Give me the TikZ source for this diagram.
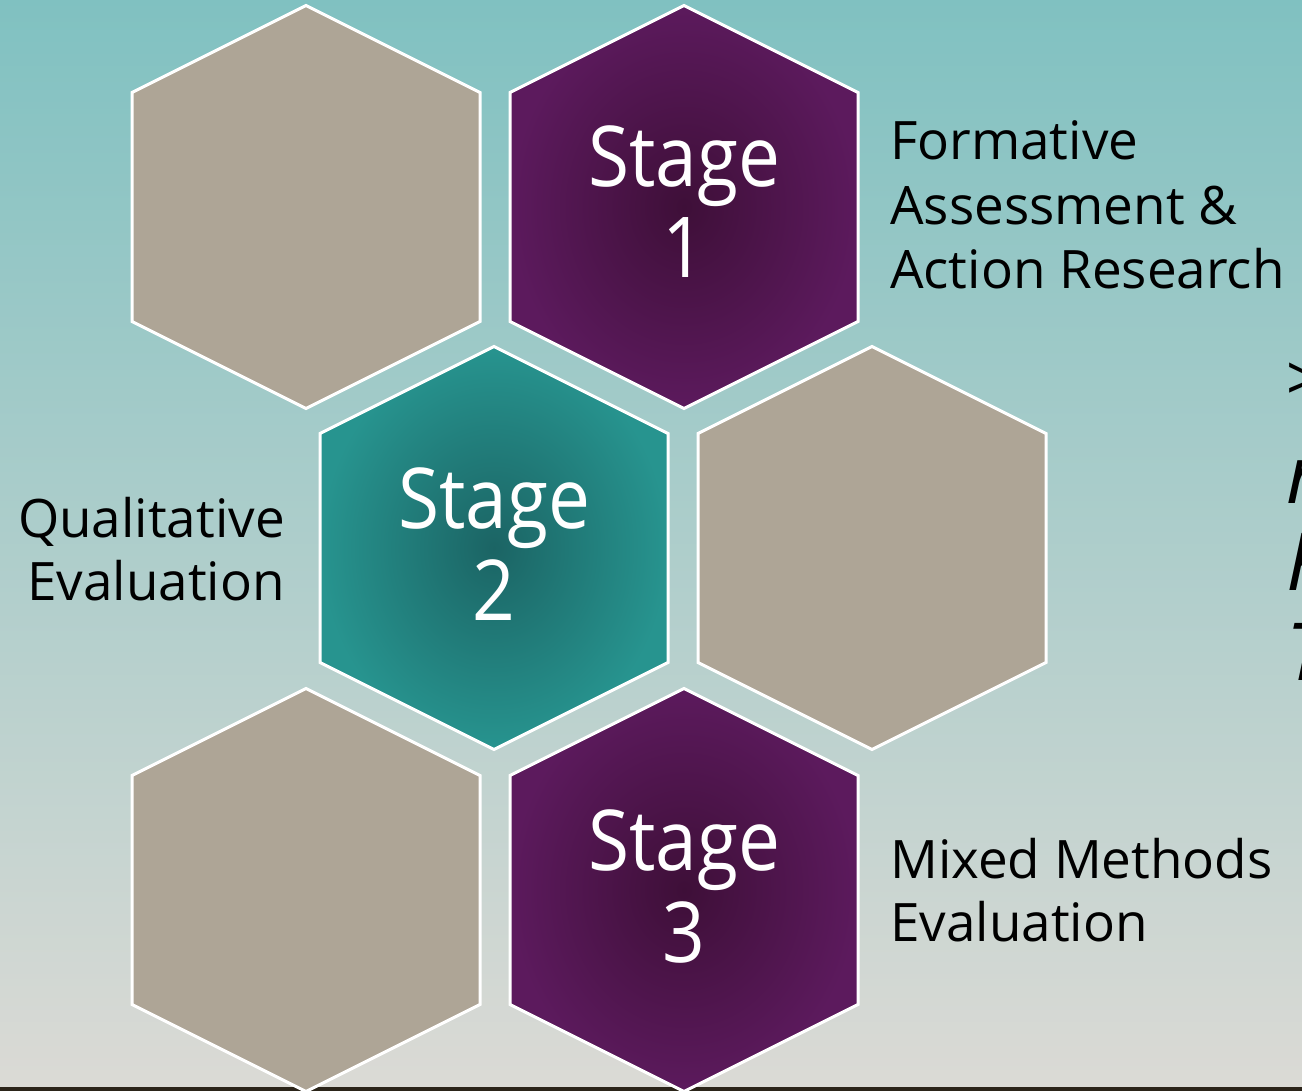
\documentclass[tikz,border=0pt]{standalone}
\usepackage{fontspec}
\setmainfont{Open Sans}
\newfontfamily\stagefont[FakeStretch=0.89]{Open Sans}
\definecolor{bgtop}{HTML}{80C1C1}
\definecolor{bgmid}{HTML}{A3CAC7}
\definecolor{bgbot}{HTML}{DBDAD5}
\definecolor{floor}{HTML}{2B2419}
\definecolor{taupe}{HTML}{AEA596}
\definecolor{plumin}{HTML}{3E0F38}
\definecolor{plumout}{HTML}{5C1A5D}
\definecolor{tealin}{HTML}{1B6464}
\definecolor{tealout}{HTML}{27948F}
\begin{document}
\begin{tikzpicture}[x=1pt,y=-1pt,
  hexline/.style={draw=white,line width=3pt,line join=miter},
  plain/.style={hexline,top color=taupe,bottom color=taupe},
  plum/.style={hexline,inner color=plumin,outer color=plumout},
  sea/.style={hexline,inner color=tealin,outer color=tealout},
  stagetxt/.style={text=white,font=\stagefont\fontsize{84}{84}\selectfont,inner sep=0pt,anchor=base},
  sidetxt/.style={text=black,font=\fontsize{53}{53}\selectfont,inner sep=0pt},
  edgetxt/.style={text=black,font=\fontsize{80}{80}\selectfont\itshape,inner sep=0pt,anchor=base west}]
\useasboundingbox (0,0) rectangle (1302,1091);
\clip (0,0) rectangle (1302,1091);
% backdrop and floor strip
\shade[top color=bgtop,middle color=bgmid,bottom color=bgbot] (0,0) rectangle (1302,1087);
\fill[floor] (0,1087) rectangle (1302,1091);
% flattened hexagon outline around the local origin
\newcommand\hexoutline{(0,-201.5) -- (174,-114.5) -- (174,114.5) -- (0,201.5) -- (-174,114.5) -- (-174,-114.5) -- cycle}
% honeycomb
\foreach \cx/\cy/\kind in {306/207/plain, 684/207/plum, 494/548/sea, 872/548/plain, 306/890/plain, 684/890/plum}{
  \begin{scope}[shift={(\cx,\cy)}]
    \shadedraw[\kind] \hexoutline;
  \end{scope}
}
% stage labels
\node[stagetxt] (s1a) at (684,187) {Stage};
\node[stagetxt] (s1b) at (684,278) {1};
\node[stagetxt] (s2a) at (494,528) {Stage};
\node[stagetxt] (s2b) at (494,620) {2};
\node[stagetxt] (s3a) at (684,870) {Stage};
\node[stagetxt] (s3b) at (684,962) {3};
% side captions
\node[sidetxt,anchor=base west] (c1a) at (890,160) {Formative};
\node[sidetxt,anchor=base west] (c1b) at (890,225) {Assessment \&};
\node[sidetxt,anchor=base west] (c1c) at (890,289) {Action Research};
\node[sidetxt,anchor=base east] (c2a) at (285,537) {Qualitative};
\node[sidetxt,anchor=base east] (c2b) at (285,600) {Evaluation};
\node[sidetxt,anchor=base west] (c3a) at (890,878) {Mixed Methods};
\node[sidetxt,anchor=base west] (c3b) at (890,941) {Evaluation};
% text running off the right edge
\node[edgetxt,font=\fontsize{62}{62}\selectfont] (e0) at (1286,400) {>};
\node[edgetxt] (e1) at (1286,503) {r};
\node[edgetxt] (e2) at (1286,590) {F};
\node[edgetxt] (e3) at (1286,680) {T};
\end{tikzpicture}
\end{document}
